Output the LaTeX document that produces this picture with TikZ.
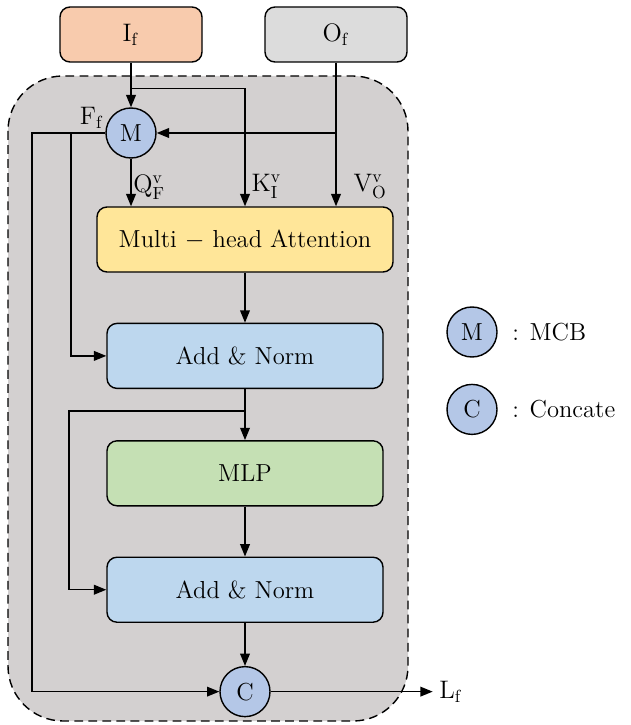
\documentclass[tikz,border=0pt]{standalone}
\usepackage{amsmath}
\usetikzlibrary{positioning,arrows.meta}
\definecolor{inputc}{HTML}{F8CBAD}
\definecolor{outc}{HTML}{DCDCDC}
\definecolor{framec}{HTML}{D3D0D0}
\definecolor{attnc}{HTML}{FFE699}
\definecolor{normc}{HTML}{BDD7EE}
\definecolor{mlpc}{HTML}{C5E0B4}
\definecolor{opc}{HTML}{B4C7E7}

\begin{document}
\begin{tikzpicture}[
    font=\fontsize{14}{16}\selectfont,
    block/.style={draw, line width=0.8pt, rounded corners=0.2cm, minimum width=5.52cm, minimum height=1.3cm},  % Style for the layer boxes
    inbox/.style={block, minimum width=2.84cm, minimum height=1.1cm},                                      % Style for the input boxes
    op/.style={circle, draw, line width=0.8pt, fill=opc, minimum size=1cm, inner sep=0pt},                  % Style for the operators
    every path/.style={line width=0.8pt},
    >={Triangle[length=7pt,width=5.5pt]}                                                                    % Arrowhead style
    ]
    \useasboundingbox (0,0) rectangle (12.6,-14.5);

    % Dashed frame round the block
    \draw[dashed, dash pattern=on 5pt off 3pt, fill=framec, rounded corners=1.1cm] (0.16,-1.52) rectangle (8.16,-14.42);

    % Inputs and the MCB operator
    \node[inbox, fill=inputc] (if) at (2.62,-0.69) {$\mathrm{I_f}$};
    \node[inbox, fill=outc] (of) at (6.72,-0.69) {$\mathrm{O_f}$};
    \node[op] (m) at (2.62,-2.66) {M};
    \node[anchor=east] (ff) at ([xshift=-0.05cm,yshift=-0.06cm]m.north west) {$\mathrm{F_f}$};

    % Stack of layers
    \node[block, fill=attnc, minimum width=5.92cm] (mha) at (4.9,-4.79) {Multi $-$ head Attention};
    \node[block, fill=normc, below=1cm of mha] (an1) {Add \& Norm};
    \node[block, fill=mlpc, below=1.02cm of an1] (mlp) {MLP};
    \node[block, fill=normc, below=1cm of mlp] (an2) {Add \& Norm};
    \node[op, below=0.86cm of an2] (c) {C};
    \node[right=3.24cm of c] (lf) {$\mathrm{L_f}$};

    % Legend
    \node[op] (mkey) at (9.44,-6.64) {M};
    \node[right=0.16cm of mkey] (mtext) {: MCB};
    \node[op, below=0.52cm of mkey] (ckey) {C};
    \node[right=0.16cm of ckey] (ctext) {: Concate};

    % Branch points
    \coordinate (ibr) at ([yshift=-0.52cm]if.south);
    \coordinate (ffl) at (0.64,-2.66);
    \coordinate (ffm) at (1.42,-2.66);
    \coordinate (abr) at ([yshift=-0.44cm]an1.south);

    % Query, key and value
    \draw[->] (if) -- (m);
    \draw[->] (ibr) -| node[right, pos=0.915]{$\mathrm{K_I^v}$} (mha.north);
    \draw[->] (of) -- node[right, pos=0.86, xshift=0.22cm]{$\mathrm{V_O^v}$} (of.south |- mha.north);
    \draw[->] (of.south |- m.east) -- (m.east);
    \draw[->] (m) -- node[right, pos=0.6, inner sep=1pt]{$\mathrm{Q_F^v}$} (m.south |- mha.north);

    % Residual paths
    \draw[->] (m.west) -- (ffl) |- (c.west);
    \draw[->] (ffm) |- (an1.west);
    \draw[->] (abr) -- ++(-3.52,0) |- (an2.west);

    % Main flow
    \draw[->] (mha) -- (an1);
    \draw[->] (an1) -- (mlp);
    \draw[->] (mlp) -- (an2);
    \draw[->] (an2) -- (c);
    \draw[->] (c) -- (lf);

\end{tikzpicture}
\end{document}
